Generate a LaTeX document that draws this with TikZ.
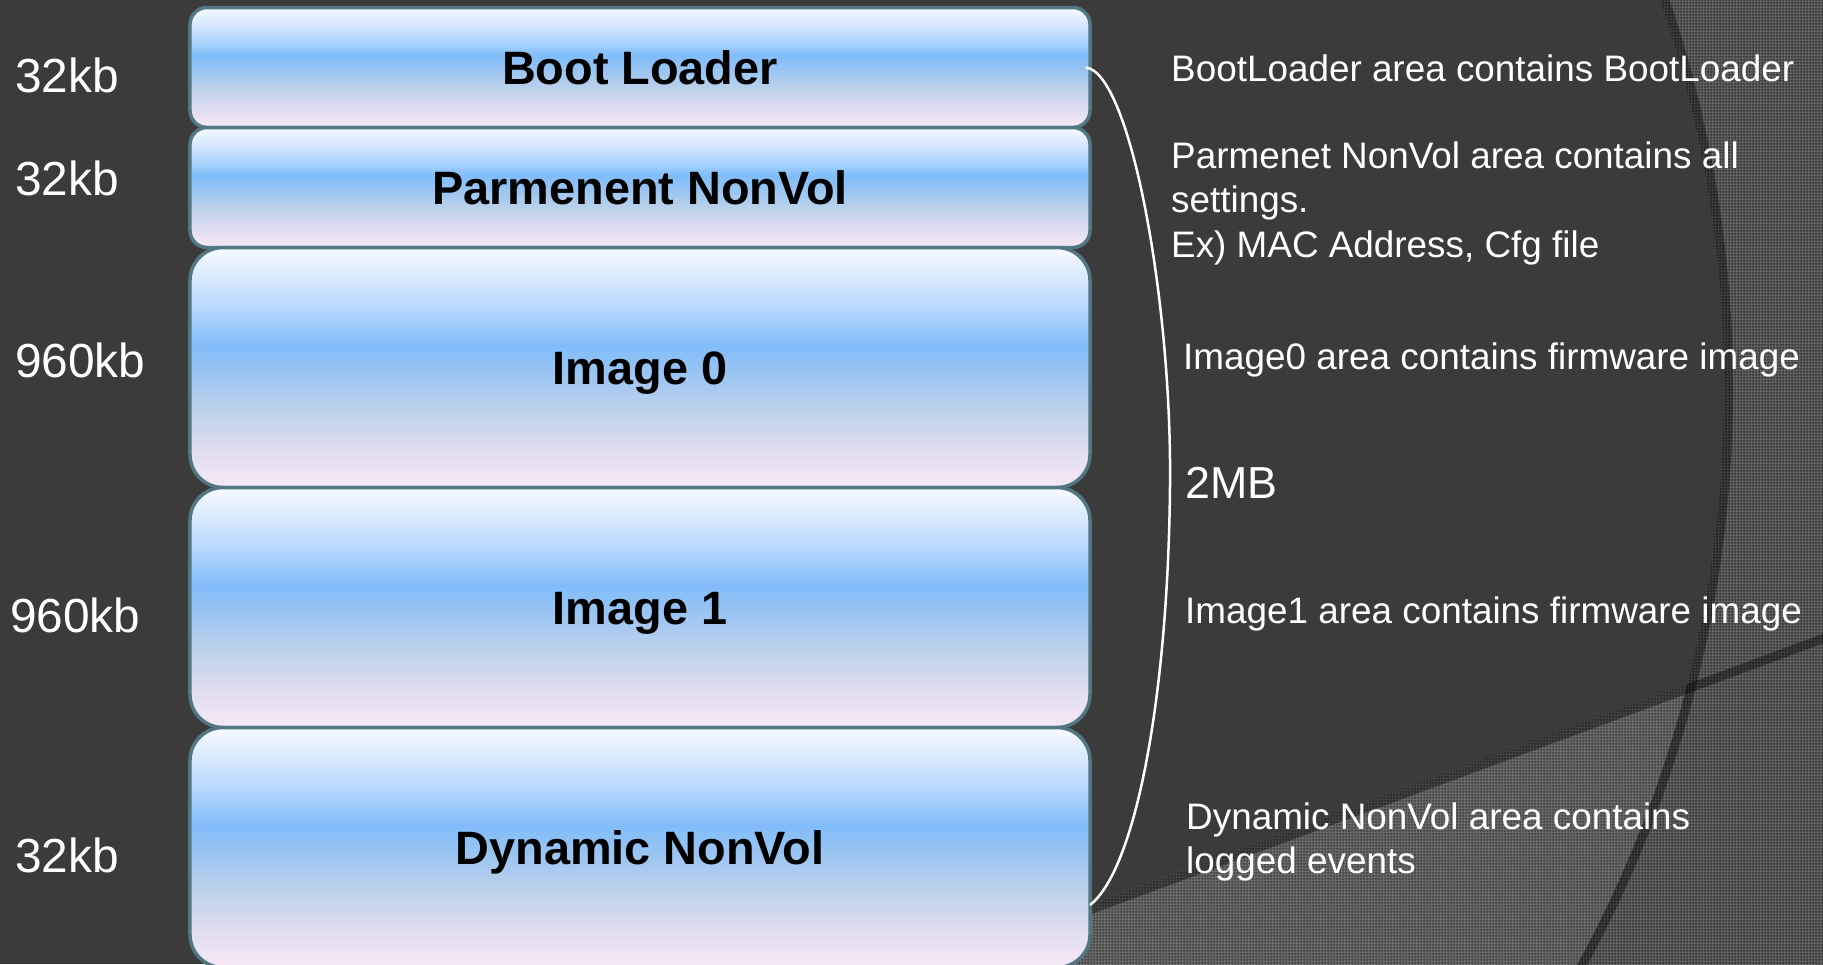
\documentclass[tikz,border=0pt]{standalone}
\usepackage{fontspec}
\setmainfont{Liberation Sans}
\usetikzlibrary{patterns}
\definecolor{bgc}{RGB}{59,59,59}
\definecolor{texA}{RGB}{66,66,66}
\definecolor{meshA}{RGB}{104,104,104}
\definecolor{texB}{RGB}{78,78,78}
\definecolor{meshB}{RGB}{112,112,112}
\definecolor{edgec}{RGB}{82,119,130}
\pgfdeclarepatternformonly{mesh}{\pgfqpoint{0bp}{0bp}}{\pgfqpoint{3bp}{3bp}}{\pgfqpoint{3bp}{3bp}}{%
  \pgfpathrectangle{\pgfpointorigin}{\pgfqpoint{3bp}{1bp}}%
  \pgfpathrectangle{\pgfpointorigin}{\pgfqpoint{1bp}{3bp}}%
  \pgfusepath{fill}}
\pgfdeclareverticalshading{memshade}{100bp}{%
  rgb(0bp)=(0.97,0.91,0.97);
  rgb(25bp)=(0.97,0.91,0.97);
  rgb(32.5bp)=(0.88,0.87,0.94);
  rgb(40bp)=(0.76,0.83,0.91);
  rgb(49bp)=(0.60,0.77,0.95);
  rgb(55bp)=(0.50,0.74,0.98);
  rgb(60bp)=(0.66,0.82,0.99);
  rgb(67.5bp)=(0.83,0.90,1.0);
  rgb(75bp)=(0.96,0.98,1.0);
  rgb(100bp)=(0.96,0.98,1.0)}
\begin{document}
\begin{tikzpicture}[x=1bp,y=-1bp,
  membox/.style={draw=edgec, line width=3.5bp, shading=memshade, inner sep=0pt,
    minimum width=900bp, text height=33.7bp, text depth=0pt,
    font=\fontsize{47}{50}\selectfont\bfseries, text=black},
  smallbox/.style={membox, minimum height=120bp, rounded corners=17bp},
  bigbox/.style={membox, minimum height=240bp, rounded corners=33bp},
  sizelbl/.style={anchor=base west, inner sep=0pt, text=white, font=\fontsize{48}{52}\selectfont},
  desc/.style={anchor=base west, inner sep=0pt, text=white, font=\fontsize{37}{44}\selectfont},
  band/.style={black, opacity=0.38, line width=9bp}
]
\useasboundingbox (0,0) rectangle (1823,964);
\clip (0,0) rectangle (1823,964);
% background
\fill[bgc] (0,0) rectangle (1823,964);
\fill[texA, even odd rule] (-5,-5) rectangle (1830,970) (520,388) circle[radius=1204bp];
\fill[pattern=mesh, pattern color=meshA, even odd rule] (-5,-5) rectangle (1830,970) (520,388) circle[radius=1204bp];
\begin{scope}
  \clip (520,388) circle[radius=1204bp];
  \fill[texB] (900,975) -- (1823,634) -- (1830,634) -- (1830,975) -- cycle;
  \fill[pattern=mesh, pattern color=meshB] (900,975) -- (1823,634) -- (1830,634) -- (1830,975) -- cycle;
\end{scope}
\draw[band] (520,388) circle[radius=1208.5bp];
\draw[band] (900,980) -- (1830,636);
% memory boxes
\node[smallbox] (boot) at (640,67.5) {Boot Loader};
\node[smallbox] (pnv) at (640,187.5) {Parmenent NonVol};
\node[bigbox] (img0) at (640,367.5) {Image 0};
\node[bigbox] (img1) at (640,607.5) {Image 1};
\node[bigbox] (dnv) at (640,847.5) {Dynamic NonVol};
% size labels
\node[sizelbl] (s1) at (15,92) {32kb};
\node[sizelbl] (s2) at (15,195) {32kb};
\node[sizelbl] (s3) at (15,377) {960kb};
\node[sizelbl] (s4) at (10,632) {960kb};
\node[sizelbl] (s5) at (15,872) {32kb};
% bracket
\coordinate (bend) at (1090,905);
\draw[white, line width=2.5bp] ([xshift=-6bp]boot.east) .. controls (1130,72) and (1172,300) .. (1170,486)
  .. controls (1168,700) and (1135,870) .. (bend);
% descriptions
\node[desc] (d1) at (1171,81) {BootLoader area contains BootLoader};
\node[desc] (d2a) at (1171,168) {Parmenet NonVol area contains all};
\node[desc] (d2b) at (1171,212.5) {settings.};
\node[desc] (d2c) at (1171,257) {Ex) MAC Address, Cfg file};
\node[desc] (d3) at (1183,369) {Image0 area contains firmware image};
\node[desc, font=\fontsize{45}{50}\selectfont] (mb) at (1185,498) {2MB};
\node[desc] (d4) at (1185,623) {Image1 area contains firmware image};
\node[desc] (d5a) at (1186,829) {Dynamic NonVol area contains};
\node[desc] (d5b) at (1186,873.5) {logged events};
\end{tikzpicture}
\end{document}
